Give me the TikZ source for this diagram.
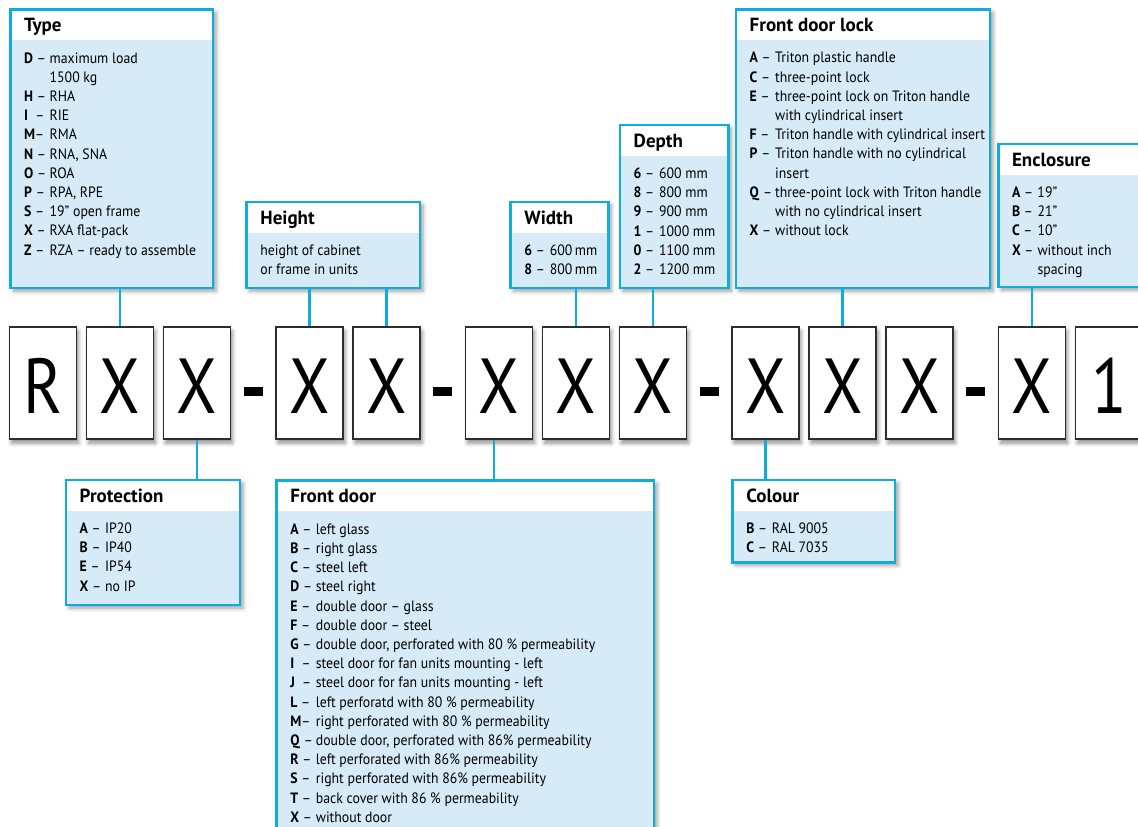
\documentclass[tikz,border=0pt]{standalone}
\usepackage{fontspec}
\setmainfont{PT Sans}[FakeStretch=0.92]
\newfontfamily\titlefont{PT Sans}
\newfontfamily\codefont{PT Sans}[FakeStretch=0.84]
\usetikzlibrary{shadows.blur}

\definecolor{panelborder}{RGB}{16,173,220}
\definecolor{panelfill}{RGB}{214,234,247}
\definecolor{boxline}{RGB}{45,45,45}

% option lines: bold code letter, dash, description on a common tab
\newlength{\tabw}\setlength{\tabw}{25.5pt}
\newcommand{\codeitem}[2]{\makebox[\tabw][l]{\textbf{#1}\ –}#2}
\newcommand{\codeitemtight}[2]{\makebox[\tabw][l]{\textbf{#1}–}#2}
\newcommand{\codecont}[1]{\hspace*{\tabw}#1}

\tikzset{
  panel/.style={draw=panelborder, line width=2.7pt, fill=panelfill,
    inner sep=0pt, outer sep=0pt, anchor=north west,
    blur shadow={shadow xshift=3pt, shadow yshift=-3pt, shadow blur radius=4pt, shadow opacity=40},
    path picture={\fill[white] (path picture bounding box.north west)
      rectangle ([yshift=-30.5pt]path picture bounding box.north east);}},
  paneltitle/.style={anchor=base west, inner sep=0pt, font=\titlefont\fontsize{19}{21}\selectfont\bfseries},
  paneltext/.style={anchor=base west, inner sep=0pt, font=\fontsize{15}{17}\selectfont},
  letterbox/.style={draw=boxline, line width=1.3pt, fill=white, inner sep=0pt,
    minimum width=67pt, minimum height=112pt, text height=60pt, text depth=0pt,
    font=\codefont\fontsize{78}{78}\selectfont,
    blur shadow={shadow xshift=2pt, shadow yshift=-4pt, shadow blur radius=4pt, shadow opacity=45}},
  dashbar/.style={fill=black, inner sep=0pt, minimum width=19pt, minimum height=8.5pt},
  link/.style={draw=panelborder, line width=2.5pt}
}

% name, left, top, right, bottom, title, list of lines
\newcommand{\infopanel}[7]{%
  \node[panel, minimum width={#4-#2}, minimum height={#5-#3}] (#1) at (#2,#3) {};
  \node[paneltitle] (#1-title) at ({#2+13.5},{#3+22}) {#6};
  \foreach \t [count=\i from 0] in {#7}{%
    \node[paneltext] (#1-\i) at ({#2+13.5},{#3+53.5+19.2*\i}) {\t};
  }%
}

\begin{document}
\begin{tikzpicture}[x=1pt, y=-1pt]
\useasboundingbox (0,0) rectangle (1138,827);

% upper panels
\infopanel{type}{10.5}{9.5}{213}{288}{Type}{%
  {\codeitem{D}{maximum load}},{\codecont{1500 kg}},{\codeitem{H}{RHA}},
  {\codeitem{I\ }{RIE}},{\codeitemtight{M}{RMA}},{\codeitem{N}{RNA, SNA}},
  {\codeitem{O}{ROA}},{\codeitem{P}{RPA, RPE}},{\codeitem{S}{19” open frame}},
  {\codeitem{X}{RXA flat-pack}},{\codeitem{Z}{RZA – ready to assemble}}}

\infopanel{height}{246.7}{202}{420}{288}{Height}{%
  {height of cabinet},{or frame in units}}

\infopanel{width}{510.7}{202}{608.3}{288}{Width}{%
  {\codeitem{6}{600\,mm}},{\codeitem{8}{800\,mm}}}

\infopanel{depth}{620}{125}{728.3}{288}{Depth}{%
  {\codeitem{6}{600 mm}},{\codeitem{8}{800 mm}},{\codeitem{9}{900 mm}},
  {\codeitem{1}{1000 mm}},{\codeitem{0}{1100 mm}},{\codeitem{2}{1200 mm}}}

\infopanel{lock}{736}{9.3}{990}{288}{Front door lock}{%
  {\codeitem{A}{Triton plastic handle}},{\codeitem{C}{three-point lock}},
  {\codeitem{E}{three-point lock on Triton handle}},{\codecont{with cylindrical insert}},
  {\codeitem{F}{Triton handle with cylindrical insert}},
  {\codeitem{P}{Triton handle with no cylindrical}},{\codecont{insert}},
  {\codeitem{Q}{three-point lock with Triton handle}},{\codecont{with no cylindrical insert}},
  {\codeitem{X}{without lock}}}

\infopanel{encl}{998.3}{144}{1170}{287}{Enclosure}{%
  {\codeitem{A}{19”}},{\codeitem{B}{21”}},{\codeitem{C}{10”}},
  {\codeitem{X}{without inch}},{\codecont{spacing}}}

% lower panels
\infopanel{prot}{66}{480}{240}{605}{Protection}{%
  {\codeitem{A}{IP20}},{\codeitem{B}{IP40}},{\codeitem{E}{IP54}},{\codeitem{X}{no IP}}}

\infopanel{door}{276.7}{480.7}{654}{860}{Front door}{%
  {\codeitem{A}{left glass}},{\codeitem{B}{right glass}},{\codeitem{C}{steel left}},
  {\codeitem{D}{steel right}},{\codeitem{E}{double door – glass}},
  {\codeitem{F}{double door – steel}},
  {\codeitem{G}{double door, perforated with 80 \% permeability}},
  {\codeitem{I\ }{steel door for fan units mounting - left}},
  {\codeitem{J\ }{steel door for fan units mounting - left}},
  {\codeitem{L}{left perforatd with 80 \% permeability}},
  {\codeitemtight{M}{right perforated with 80 \% permeability}},
  {\codeitem{Q}{double door, perforated with 86\% permeability}},
  {\codeitem{R}{left perforated with 86\% permeability}},
  {\codeitem{S}{right perforated with 86\% permeability}},
  {\codeitem{T}{back cover with 86 \% permeability}},
  {\codeitem{X}{without door}}}

\infopanel{colour}{732.7}{480}{895}{562.3}{Colour}{%
  {\codeitem{B}{RAL 9005}},{\codeitem{C}{RAL 7035}}}

% the type code, one box per character
\foreach \c/\ch [count=\k] in {43/R,120/X,197/X,309.5/X,386.5/X,499/X,576/X,
    653/X,765.5/X,842.5/X,919.5/X,1032/X,1109/1}{
  \node[letterbox] (lb\k) at (\c,383) {\ch};
}
\foreach \c [count=\k] in {253.5,442.5,709.5,975.5}{
  \node[dashbar] (dash\k) at (\c,391.5) {};
}

% connectors from the code positions to their panels
\draw[link, shorten <=0.6pt] (lb2.north) -- (lb2.north |- type.south);
\draw[link, shorten <=0.6pt] (lb4.north) -- (lb4.north |- height.south);
\draw[link, shorten <=0.6pt] (lb5.north) -- (lb5.north |- height.south);
\draw[link, shorten <=0.6pt] (lb7.north) -- (lb7.north |- width.south);
\draw[link, shorten <=0.6pt] (lb8.north) -- (lb8.north |- depth.south);
\draw[link, shorten <=0.6pt] (lb10.north) -- (lb10.north |- lock.south);
\draw[link, shorten <=0.6pt] (lb12.north) -- (lb12.north |- encl.south);
\draw[link, shorten <=0.6pt] (lb3.south) -- (lb3.south |- prot.north);
\draw[link, shorten <=0.6pt] ([xshift=-5pt]lb6.south) -- ([xshift=-5pt]lb6.south |- door.north);
\draw[link, shorten <=0.6pt] (lb9.south) -- (lb9.south |- colour.north);
\end{tikzpicture}
\end{document}
